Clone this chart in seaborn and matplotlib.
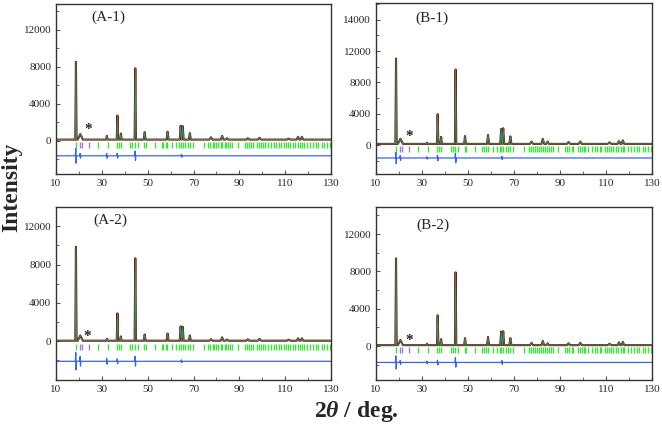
import numpy as np
import pandas as pd
import matplotlib
matplotlib.use("Agg")
import matplotlib.pyplot as plt
import seaborn as sns

# peak positions (2theta) shared by the four patterns
peak_pos = [18.7, 20.6, 32.2, 36.8, 38.3, 44.6, 48.7, 58.7, 64.4, 65.3,
            68.4, 77.6, 82.5, 84.6, 93.7, 98.8, 111.5, 115.6, 117.3]
peak_hw = [0.28, 1.1, 0.35, 0.3, 0.35, 0.3, 0.4, 0.45, 0.4, 0.4,
           0.45, 0.7, 0.6, 0.6, 0.7, 0.7, 0.8, 0.6, 0.6]

# peak heights above background, per panel
heights_A1 = [8400, 600, 400, 2600, 650, 7700, 800, 850, 1500, 1450,
              700, 250, 400, 150, 150, 200, 100, 300, 300]
heights_A2 = [9800, 550, 200, 2850, 450, 8600, 650, 750, 1500, 1450,
              550, 150, 350, 120, 150, 200, 100, 250, 250]
heights_B1 = [10900, 650, 150, 3800, 900, 9500, 1000, 1150, 1900, 2000,
              950, 300, 650, 300, 250, 300, 200, 350, 450]
heights_B2 = [9300, 550, 150, 3200, 650, 7800, 750, 880, 1450, 1500,
              750, 250, 450, 200, 200, 250, 150, 300, 350]
background = {"A-1": 150, "A-2": 50, "B-1": 150, "B-2": 100}

# difference curve: offset and residual spikes
diff_offset = {"A-1": -1600, "A-2": -2100, "B-1": -1650, "B-2": -1750}
diff_pos = [18.7, 20.6, 32.2, 36.8, 44.6, 64.8]
diff_amp_A1 = [800, 250, 250, 250, 500, 150]
diff_amp_A2 = [900, 500, 300, 250, 500, 150]
diff_amp_B1 = [700, 300, 150, 350, 600, 200]
diff_amp_B2 = [700, 200, 150, 250, 500, 200]

# Bragg reflection markers
tick_row = {"A-1": -400, "A-2": -650, "B-1": -450, "B-2": -450}
green_ticks = [18.7, 28.2, 32.8, 36.6, 37.5, 38.2, 42.5, 43.3, 44.5, 45.8,
               48.6, 49.3, 53.0, 56.1, 56.9, 57.8, 58.6, 60.7, 62.5, 63.7,
               64.4, 65.3, 66.5, 67.5, 68.3, 69.6, 74.5, 76.4, 77.4, 78.3,
               79.0, 80.0, 80.9, 81.8, 82.5, 83.6, 84.3, 85.0, 86.1, 87.0,
               89.3, 92.3, 93.2, 94.0, 95.0, 95.8, 97.6, 98.5, 99.5, 100.2,
               101.0, 102.3, 104.0, 105.0, 106.0, 107.2, 108.0, 109.5, 110.3,
               111.3, 112.3, 113.2, 114.5, 115.4, 116.3, 117.3, 118.0, 119.7,
               121.0, 122.0, 123.5, 124.3, 126.0, 127.0, 128.3, 129.5]
purple_ticks = [20.6, 21.5, 24.4]

# impurity marker (*) positions
star_xy = {"A-1": (24.0, 1200), "A-2": (23.4, 500), "B-1": (24.2, 1150), "B-2": (24.3, 550)}

panels = ["A-1", "B-1", "A-2", "B-2"]
heights = {"A-1": heights_A1, "A-2": heights_A2, "B-1": heights_B1, "B-2": heights_B2}
diff_amps = {"A-1": diff_amp_A1, "A-2": diff_amp_A2, "B-1": diff_amp_B1, "B-2": diff_amp_B2}
ylims = {"A-1": (-3570, 14800), "B-1": (-3700, 18150), "A-2": (-4050, 14000), "B-2": (-3630, 14900)}
ytick_vals = {"A-1": [0, 4000, 8000, 12000], "A-2": [0, 4000, 8000, 12000],
              "B-1": [0, 4000, 8000, 12000, 16000], "B-2": [0, 4000, 8000, 12000]}
ytick_text = {"A-1": ["0", "4000", "8000", "12000"], "A-2": ["0", "4000", "8000", "12000"],
              "B-1": ["0", "4000", "8000", "12000", "14000"], "B-2": ["0", "4000", "8000", "12000"]}
label_xy = {"A-1": (0.19, 0.92), "B-1": (0.203, 0.91), "A-2": (0.196, 0.925), "B-2": (0.207, 0.896)}
axes_rect = {"A-1": [0.0846, 0.5953, 0.4154, 0.3954],
             "B-1": [0.568, 0.5953, 0.417, 0.3977],
             "A-2": [0.0846, 0.1163, 0.4154, 0.4023],
             "B-2": [0.568, 0.1163, 0.417, 0.4023]}

sns.set_theme(style="ticks")
plt.rcParams["font.family"] = ["Liberation Serif", "DejaVu Serif"]
plt.rcParams["mathtext.fontset"] = "custom"
plt.rcParams["mathtext.rm"] = "Liberation Serif:bold"
plt.rcParams["mathtext.it"] = "Liberation Serif:italic:bold"


def profile(bg, hs):
    xs, ys = [10.0], [bg]
    for p, w, h in zip(peak_pos, peak_hw, hs):
        xs += [p - w, p, p + w]
        ys += [bg, bg + h, bg]
    xs.append(130.0)
    ys.append(bg)
    return pd.DataFrame({"tt": xs, "I": ys})


def difference(off, amps):
    xs, ys = [10.0], [off]
    for p, a in zip(diff_pos, amps):
        xs += [p - 0.25, p - 0.08, p + 0.08, p + 0.25]
        ys += [off, off + a, off - a, off]
    xs.append(130.0)
    ys.append(off)
    return pd.DataFrame({"tt": xs, "I": ys})


fig = plt.figure(figsize=(6.62, 4.30), dpi=100)

for name in panels:
    ax = fig.add_axes(axes_rect[name])
    obs = profile(background[name], heights[name])
    dif = difference(diff_offset[name], diff_amps[name])

    # observed (dark red) and calculated (green) profiles
    sns.lineplot(data=obs, x="tt", y="I", ax=ax, color="#7E0F0F", lw=1.5,
                 sort=False, estimator=None)
    sns.lineplot(data=obs, x="tt", y="I", ax=ax, color="#2E9B6A", lw=0.6,
                 sort=False, estimator=None)
    sns.lineplot(data=dif, x="tt", y="I", ax=ax, color="#3A62E8", lw=0.9,
                 sort=False, estimator=None)

    g = pd.DataFrame({"tt": green_ticks, "I": [tick_row[name]] * len(green_ticks)})
    p = pd.DataFrame({"tt": purple_ticks, "I": [tick_row[name]] * len(purple_ticks)})
    sns.scatterplot(data=g, x="tt", y="I", ax=ax, marker="|", s=22,
                    color="#3FE03F", linewidth=1.0)
    sns.scatterplot(data=p, x="tt", y="I", ax=ax, marker="|", s=22,
                    color="#9A80D0", linewidth=1.0)

    sx, sy = star_xy[name]
    ax.text(sx, sy, "*", fontsize=11, fontweight="bold", ha="center", va="center")
    ax.text(label_xy[name][0], label_xy[name][1], "(" + name + ")",
            transform=ax.transAxes, fontsize=11, ha="center", va="center")

    ax.set_xlim(10, 130)
    ax.set_ylim(*ylims[name])
    ax.set_xticks([10, 30, 50, 70, 90, 110, 130])
    ax.set_xticks([20, 40, 60, 80, 100, 120], minor=True)
    ax.set_yticks(ytick_vals[name])
    ax.set_yticklabels(ytick_text[name])
    yv = ytick_vals[name]
    ax.set_yticks([v + 2000 for v in yv] + [-2000], minor=True)
    ax.tick_params(which="both", direction="in", labelsize=8, color="#555555")
    ax.tick_params(which="major", length=3, width=0.8)
    ax.tick_params(which="minor", length=2, width=0.6)
    ax.set_xlabel("")
    ax.set_ylabel("")
    for sp in ax.spines.values():
        sp.set_color("#333333")
        sp.set_linewidth(1.0)

fig.text(0.018, 0.565, "Intensity", rotation=90, fontsize=17, fontweight="bold",
         ha="center", va="center")
fig.text(0.538, 0.042, r"2$\mathit{\theta}$ / deg.", fontsize=17, fontweight="bold",
         ha="center", va="center")

fig.savefig("out.png", dpi=100)
